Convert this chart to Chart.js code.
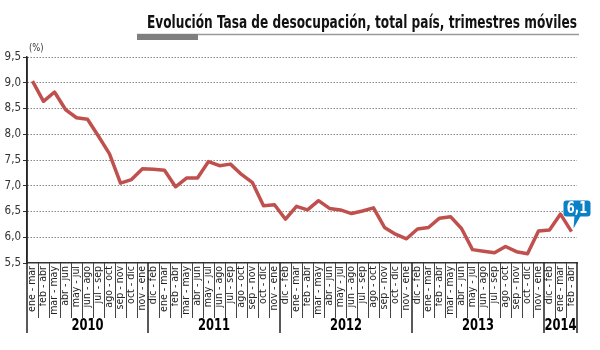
<!DOCTYPE html>
<html>
<head>
<meta charset="utf-8">
<script src="https://cdn.jsdelivr.net/npm/chart.js@4.4.1/dist/chart.umd.min.js"></script>
<style>
  html, body { margin: 0; padding: 0; background: #fff; }
</style>
</head>
<body>
<canvas id="chart" width="600" height="350"></canvas>
<script>
// trimestres móviles, ene-mar 2010 .. feb-abr 2014
const periods = [
  'ene - mar', 'feb - abr', 'mar - may', 'abr - jun', 'may - jul', 'jun - ago', 'jul - sep', 'ago - oct', 'sep - nov', 'oct - dic', 'nov - ene',
  'dic - feb', 'ene - mar', 'feb - abr', 'mar - may', 'abr - jun', 'may - jul', 'jun - ago', 'jul - sep', 'ago - oct', 'sep - nov', 'oct - dic', 'nov - ene',
  'dic - feb', 'ene - mar', 'feb - abr', 'mar - may', 'abr - jun', 'may - jul', 'jun - ago', 'jul - sep', 'ago - oct', 'sep - nov', 'oct - dic', 'nov - ene',
  'dic - feb', 'ene - mar', 'feb - abr', 'mar - may', 'abr - jun', 'may - jul', 'jun - ago', 'jul - sep', 'ago - oct', 'sep - nov', 'oct - dic', 'nov - ene',
  'dic - feb', 'ene - mar', 'feb - abr'
];
const years = ['2010', '2011', '2012', '2013', '2014'];
const yearStarts = [0, 11, 23, 35, 47]; // primer trimestre de cada año

const rate = [
  9.03, 8.64, 8.82, 8.48, 8.32, 8.29, 7.96, 7.62, 7.05, 7.12, 7.33,
  7.32, 7.30, 6.98, 7.15, 7.15, 7.47, 7.39, 7.42, 7.22, 7.06, 6.61,
  6.63, 6.35, 6.60, 6.53, 6.71, 6.56, 6.53, 6.46, 6.51, 6.57, 6.19,
  6.06, 5.97, 6.16, 6.19, 6.37, 6.40, 6.17, 5.76, 5.73, 5.70, 5.82,
  5.72, 5.68, 6.12, 6.14, 6.45, 6.11
];
const yTicks = [5.5, 6.0, 6.5, 7.0, 7.5, 8.0, 8.5, 9.0, 9.5];

const NARROW = '"Liberation Sans Narrow", "DejaVu Sans Condensed", sans-serif';
const fmt = (v) => v.toFixed(1).replace('.', ',');

// texto comprimido a lo ancho (la fuente estrecha del original no está)
function narrowText(ctx, text, x, y, sx) {
  ctx.save();
  ctx.translate(x, y);
  ctx.scale(sx, 1);
  ctx.fillText(text, 0, 0);
  ctx.restore();
}

// título, separadores de años y etiqueta del último valor
const decor = {
  id: 'decor',
  afterDraw(chart) {
    const { ctx, chartArea } = chart;
    const x = chart.scales.x;
    const bottom = chartArea.bottom;
    ctx.save();

    const title = 'Evolución Tasa de desocupación, total país, trimestres móviles';
    ctx.fillStyle = '#111';
    ctx.font = 'bold 17.5px ' + NARROW;
    ctx.textAlign = 'right';
    ctx.textBaseline = 'alphabetic';
    narrowText(ctx, title, 577, 28, Math.min(1, 430 / ctx.measureText(title).width));

    ctx.strokeStyle = '#9a9a9a';
    ctx.lineWidth = 1.5;
    ctx.beginPath();
    ctx.moveTo(137, 34.5);
    ctx.lineTo(579, 34.5);
    ctx.stroke();
    ctx.fillStyle = '#7f7f7f';
    ctx.fillRect(137, 34, 61, 6);

    ctx.fillStyle = '#333';
    ctx.font = '11px ' + NARROW;
    ctx.textAlign = 'left';
    narrowText(ctx, '(%)', 29, 51, 0.85);

    // separadores entre trimestres
    const edge = (i) => {
      if (i === 0) return chartArea.left;
      if (i === periods.length) return chartArea.right;
      return (x.getPixelForValue(i - 1) + x.getPixelForValue(i)) / 2;
    };
    ctx.strokeStyle = '#444';
    for (let i = 1; i < periods.length; i++) {
      if (yearStarts.includes(i)) continue;
      const px = Math.round(edge(i)) + 0.5;
      ctx.lineWidth = 1;
      ctx.beginPath();
      ctx.moveTo(px, bottom);
      ctx.lineTo(px, bottom + 55);
      ctx.stroke();
    }
    const bounds = yearStarts.concat([periods.length]);
    ctx.strokeStyle = '#222';
    ctx.lineWidth = 1.5;
    bounds.forEach((i) => {
      const px = edge(i);
      ctx.beginPath();
      ctx.moveTo(px, i === 0 ? chartArea.top : bottom);
      ctx.lineTo(px, bottom + 70);
      ctx.stroke();
    });

    ctx.fillStyle = '#000';
    ctx.font = 'bold 16px ' + NARROW;
    ctx.textAlign = 'center';
    years.forEach((yr, k) => {
      const cx = (edge(bounds[k]) + edge(bounds[k + 1])) / 2;
      narrowText(ctx, yr, cx, bottom + 67, 0.8);
    });

    // globo con el último dato
    const last = rate.length - 1;
    const pt = chart.getDatasetMeta(0).data[last];
    const bx = pt.x - 8, by = pt.y - 31, bw = 27, bh = 16;
    ctx.fillStyle = '#0a80c6';
    ctx.beginPath();
    ctx.roundRect(bx, by, bw, bh, 3);
    ctx.fill();
    ctx.beginPath();
    ctx.moveTo(pt.x + 3, by + bh - 0.5);
    ctx.lineTo(pt.x + 9, by + bh - 0.5);
    ctx.lineTo(pt.x + 2, pt.y - 3);
    ctx.closePath();
    ctx.fill();
    ctx.fillStyle = '#fff';
    ctx.font = 'bold 15px ' + NARROW;
    ctx.textBaseline = 'middle';
    narrowText(ctx, fmt(rate[last]), bx + bw / 2, by + bh / 2 + 0.5, 0.85);

    ctx.restore();
  }
};

new Chart(document.getElementById('chart').getContext('2d'), {
  type: 'line',
  data: {
    labels: periods,
    datasets: [{
      data: rate,
      borderColor: '#c0504d',
      borderWidth: 3.5,
      pointRadius: 0,
      tension: 0,
      borderJoinStyle: 'round',
    }]
  },
  options: {
    responsive: false,
    animation: false,
    devicePixelRatio: 1,
    layout: { padding: { top: 57, right: 23, bottom: 31, left: 0 } },
    plugins: { legend: { display: false }, tooltip: { enabled: false } },
    scales: {
      x: {
        type: 'category',
        offset: true,
        grid: { display: false, drawTicks: false },
        border: { display: true, color: '#333', width: 1.5 },
        ticks: {
          autoSkip: false,
          minRotation: 90,
          maxRotation: 90,
          padding: 3,
          color: '#222',
          font: { family: NARROW, size: 10.5 },
        },
        afterFit: (scale) => { scale.height = 56; },
      },
      y: {
        min: 5.5,
        max: 9.5,
        afterBuildTicks: (scale) => { scale.ticks = yTicks.map((v) => ({ value: v })); },
        grid: {
          color: (c) => (c.tick && c.tick.value === 5.5 ? 'rgba(0,0,0,0)' : '#888'),
          lineWidth: 1,
          drawTicks: true,
          tickLength: 4,
          tickColor: '#333',
          tickBorderDash: [],
        },
        border: { display: true, color: '#333', width: 1.5, dash: [1.5, 1.5] },
        ticks: {
          padding: 2,
          color: '#333',
          font: { family: NARROW, size: 11.5 },
          callback: (v) => fmt(v),
        },
        afterFit: (scale) => { scale.width = 27; },
      }
    }
  },
  plugins: [decor]
});
</script>
</body>
</html>
